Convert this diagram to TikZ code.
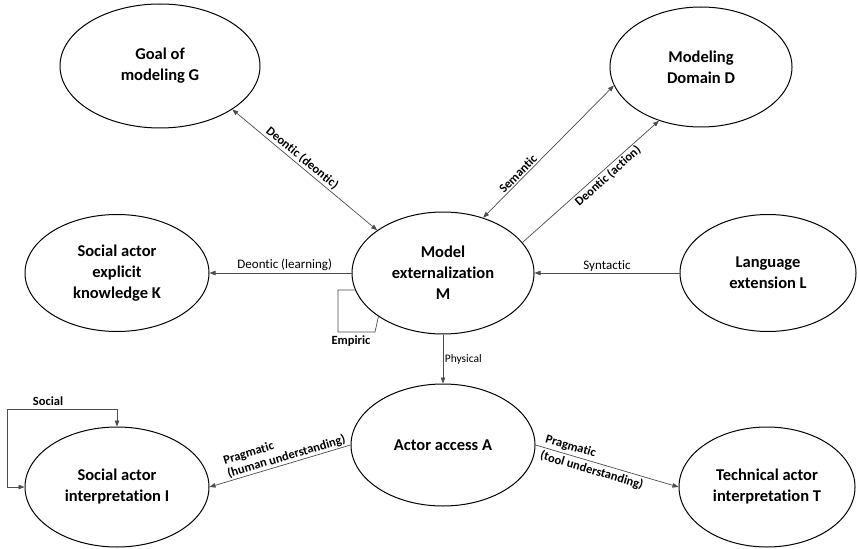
\documentclass[tikz,border=0pt]{standalone}
\usepackage{fontspec}
\setmainfont[Ligatures=NoCommon]{Carlito}
\usetikzlibrary{shapes.geometric,arrows.meta}

\begin{document}
\begin{tikzpicture}[x=1pt,y=-1pt,
  concept/.style={ellipse,draw=black,line width=1pt,inner sep=0pt,align=center,
    font=\fontsize{16.5}{21}\selectfont\bfseries},
  link/.style={draw=black!70,line width=0.7pt},
  tip/.style={-{Triangle[length=6pt,width=4.5pt]}},
  twotips/.style={{Triangle[length=6pt,width=4.5pt]}-{Triangle[length=6pt,width=4.5pt]}},
  lbl/.style={font=\fontsize{12.5}{14}\selectfont\bfseries,inner sep=1.5pt},
  lblr/.style={font=\fontsize{13}{15}\selectfont,inner sep=1.5pt}]
\fill[white] (0,0) rectangle (858,548);
\useasboundingbox (0,0) rectangle (858,548);

% concepts
\node[concept,minimum width=200pt,minimum height=124pt] (G) at (160,66) {Goal of\\modeling G};
\node[concept,minimum width=182pt,minimum height=120pt] (D) at (701,67) {Modeling\\Domain D};
\node[concept,minimum width=184pt,minimum height=117pt] (K) at (117,273) {Social actor\\explicit\\knowledge K};
\node[concept,minimum width=182pt,minimum height=122pt] (M) at (443,273) {Model\\externalization\\M};
\node[concept,minimum width=176pt,minimum height=117pt] (L) at (768,273) {Language\\extension L};
\node[concept,minimum width=184pt,minimum height=122pt] (A) at (443,445) {Actor access A};
\node[concept,minimum width=184pt,minimum height=120pt] (I) at (117,487) {Social actor\\interpretation I};
\node[concept,minimum width=176pt,minimum height=120pt] (T) at (767,487) {Technical actor\\interpretation T};

% relations around the model
\draw[link,twotips] (G.-31) -- node[lbl,sloped,above,pos=0.45] {Deontic (deontic)} (M.147);
\draw[link,twotips] (M.54) -- node[lbl,sloped,above,pos=0.3] {Semantic} (D.192);
\draw[link,tip] (M.21) -- node[lbl,sloped,below,pos=0.59] {Deontic (action)} (D.232);
\draw[link,tip] (M.180) -- node[lblr,above,pos=0.47] {Deontic (learning)} (K.0);
\draw[link,tip] (L.180) -- node[lblr,above] {Syntactic} (M.0);
\draw[link,tip] (M.-90) -- node[lblr,right,font=\fontsize{11.5}{13}\selectfont] {Physical} (A.90);

% empiric self-relation
\coordinate (empA) at (338,332);
\coordinate (empB) at (375,332);
\draw[link] (M.191) -| (empA) -- (empB) -- (M.214);
\node[lbl] (emplbl) at (351,341) {Empiric};

% pragmatic relations
\draw[link,tip] (A.180) -- node[lbl,sloped,above,align=left,pos=0.44,inner sep=1pt] {Pragmatic\\(human understanding)} (I.0);
\draw[link,tip] (A.0) -- node[lbl,sloped,above,pos=0.23,inner sep=2.5pt] {Pragmatic}
  node[lbl,sloped,below,pos=0.41,inner sep=2.5pt] {(tool understanding)} (T.180);

% social self-relation
\coordinate (socc) at (7,409);
\draw[link,twotips] (I.180) -| (socc) -| (I.90);
\node[lbl] (soclbl) at (48,401) {Social};
\end{tikzpicture}
\end{document}
